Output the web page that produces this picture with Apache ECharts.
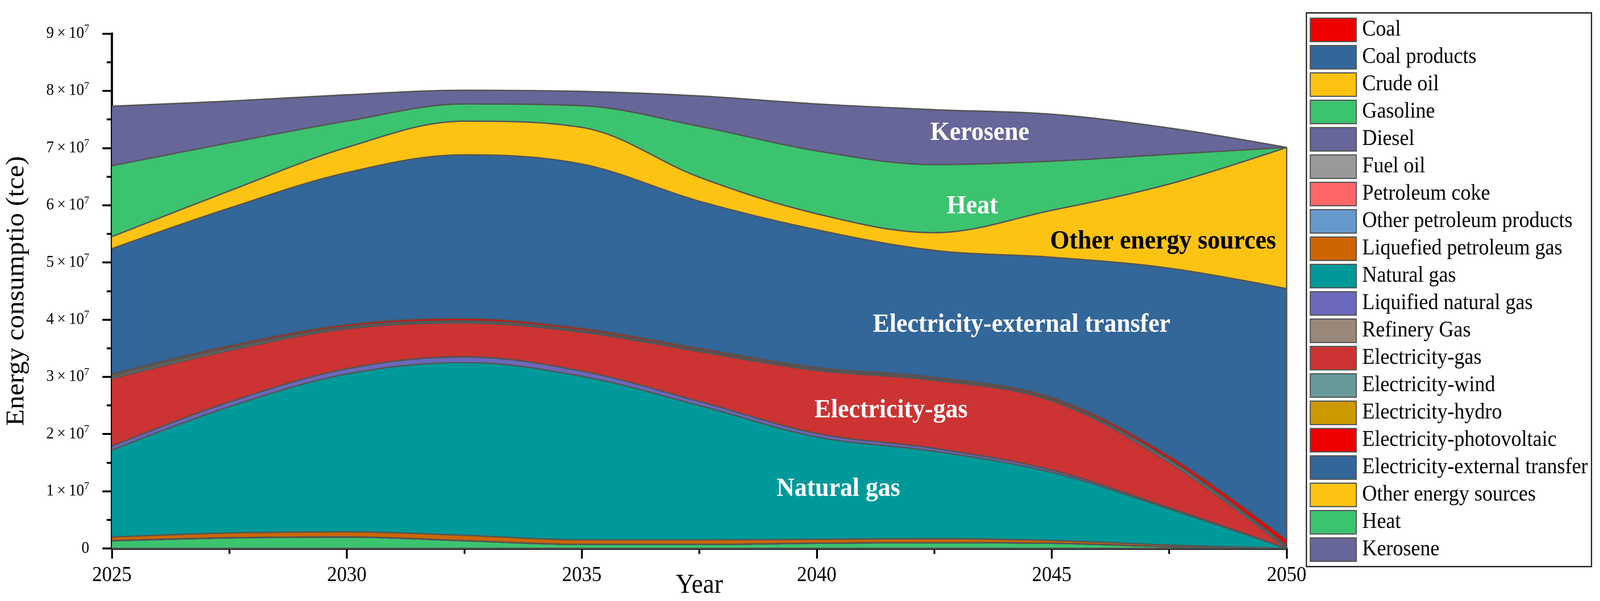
<!DOCTYPE html>
<html>
<head>
<meta charset="utf-8">
<script src="https://cdn.jsdelivr.net/npm/echarts@6/dist/echarts.min.js"></script>
<style>
html,body{margin:0;padding:0;background:#fff;overflow:hidden;}
#wrap{position:absolute;left:0;top:0;width:4376px;height:1538px;transform-origin:0 0;}
#c{width:4376px;height:1538px;}
</style>
</head>
<body>
<div id="wrap"><div id="c"></div></div>
<script>
// ---- data (tce) ----
const years = [2025, 2027.5, 2030, 2032.5, 2035, 2037.5, 2040, 2042.5, 2045, 2047.5, 2050];

const coal          = [0, 0, 0, 0, 0, 0, 0, 0, 0, 0, 0];
const coalProducts  = [0, 0, 0, 0, 0, 0, 0, 0, 0, 0, 0];
const crudeOil      = [0, 0, 0, 0, 0, 0, 0, 0, 0, 0, 0];
const gasoline      = [0.135e7, 0.185e7, 0.20e7, 0.135e7, 0.07e7, 0.07e7, 0.09e7, 0.10e7, 0.09e7, 0.03e7, 0];
const diesel        = [0, 0, 0, 0, 0, 0, 0, 0, 0, 0, 0];
const fuelOil       = [0, 0, 0, 0, 0, 0, 0, 0, 0, 0, 0];
const petroleumCoke = [0, 0, 0, 0, 0, 0, 0, 0, 0, 0, 0];
const otherPetro    = [0, 0, 0, 0, 0, 0, 0, 0, 0, 0, 0];
const lpg           = [0.065e7, 0.085e7, 0.09e7, 0.095e7, 0.08e7, 0.08e7, 0.07e7, 0.07e7, 0.05e7, 0.03e7, 0];
const naturalGas    = [1.52e7, 2.21e7, 2.76e7, 3.02e7, 2.86e7, 2.35e7, 1.79e7, 1.53e7, 1.19e7, 0.63e7, 0];
const lng           = [0.07e7, 0.08e7, 0.09e7, 0.10e7, 0.09e7, 0.07e7, 0.06e7, 0.05e7, 0.04e7, 0.02e7, 0];
const refineryGas   = [0, 0, 0, 0, 0, 0, 0, 0, 0, 0, 0];
const elecGas       = [1.18e7, 0.90e7, 0.70e7, 0.59e7, 0.68e7, 0.87e7, 1.10e7, 1.19e7, 1.21e7, 0.79e7, 0];
const elecWind      = [0.03e7, 0.03e7, 0.025e7, 0.025e7, 0.02e7, 0.02e7, 0.02e7, 0.02e7, 0.02e7, 0.04e7, 0.03e7];
const elecHydro     = [0.03e7, 0.025e7, 0.015e7, 0.015e7, 0.015e7, 0.01e7, 0.01e7, 0.01e7, 0.01e7, 0.02e7, 0.02e7];
const elecPV        = [0.02e7, 0.03e7, 0.035e7, 0.04e7, 0.035e7, 0.03e7, 0.025e7, 0.025e7, 0.03e7, 0.06e7, 0.10e7];
const elecExternal  = [2.19e7, 2.405e7, 2.655e7, 2.86e7, 2.87e7, 2.57e7, 2.405e7, 2.215e7, 2.45e7, 3.28e7, 4.39e7];
const otherSources  = [0.21e7, 0.30e7, 0.44e7, 0.59e7, 0.64e7, 0.42e7, 0.28e7, 0.31e7, 0.82e7, 1.47e7, 2.47e7];
const heat          = [1.24e7, 0.84e7, 0.46e7, 0.30e7, 0.38e7, 0.89e7, 1.10e7, 1.19e7, 0.86e7, 0.52e7, 0];
const kerosene      = [1.04e7, 0.73e7, 0.46e7, 0.24e7, 0.25e7, 0.53e7, 0.82e7, 0.96e7, 0.82e7, 0.46e7, 0];

const yTicks = [0, 1e7, 2e7, 3e7, 4e7, 5e7, 6e7, 7e7, 8e7, 9e7];

// in-chart annotations [text, year, value, color]
const annotations = [
  ['Kerosene', 2043.47, 7.26e7, '#ffffff'],
  ['Heat', 2043.31, 5.98e7, '#ffffff'],
  ['Other energy sources', 2047.37, 5.36e7, '#000000'],
  ['Electricity-external transfer', 2044.36, 3.91e7, '#ffffff'],
  ['Electricity-gas', 2041.58, 2.415e7, '#ffffff'],
  ['Natural gas', 2040.46, 1.04e7, '#ffffff']
];

const layers = [
  ['Coal', coal, '#EE0000'],
  ['Coal products', coalProducts, '#336699'],
  ['Crude oil', crudeOil, '#FDC313'],
  ['Gasoline', gasoline, '#3CC36F'],
  ['Diesel', diesel, '#666699'],
  ['Fuel oil', fuelOil, '#999999'],
  ['Petroleum coke', petroleumCoke, '#FF6666'],
  ['Other petroleum products', otherPetro, '#6699CC'],
  ['Liquefied petroleum gas', lpg, '#CC6600'],
  ['Natural gas', naturalGas, '#009999'],
  ['Liquified natural gas', lng, '#6B67BB'],
  ['Refinery Gas', refineryGas, '#99877A'],
  ['Electricity-gas', elecGas, '#CC3333'],
  ['Electricity-wind', elecWind, '#669999'],
  ['Electricity-hydro', elecHydro, '#CC9900'],
  ['Electricity-photovoltaic', elecPV, '#EE0000'],
  ['Electricity-external transfer', elecExternal, '#336699'],
  ['Other energy sources', otherSources, '#FDC313'],
  ['Heat', heat, '#3CC36F'],
  ['Kerosene', kerosene, '#666699']
];

// fit the 4376x1538 design into whatever viewport the browser gives
(function () {
  const w = window.innerWidth || 4376, h = window.innerHeight || 1538;
  document.getElementById('wrap').style.transform = 'scale(' + (w / 4376) + ',' + (h / 1538) + ')';
})();

const FONT = "'Liberation Serif', 'Times New Roman', serif";
const EDGE = '#555555';
const SMOOTH = 0.35;

// data rows are [value, year] and mapped with encode so that the stack works on the value dimension
function rows(vals) { return years.map((y, i) => [vals[i], y]); }

const series = [];
layers.forEach(([name, vals, color]) => {
  series.push({
    name: name,
    type: 'line',
    stack: 'areas',
    encode: { x: 1, y: 0 },
    smooth: SMOOTH,
    showSymbol: false,
    symbol: 'none',
    silent: true,
    z: 2,
    itemStyle: { color: color },
    lineStyle: { width: 0, opacity: 0 },
    areaStyle: { color: color, opacity: 1 },
    data: rows(vals)
  });
});
const total2050 = layers.reduce((s, l) => s + l[1][years.length - 1], 0);
layers.forEach(([name, vals], k) => {
  const s = {
    name: name + ' outline',
    type: 'line',
    stack: 'outlines',
    encode: { x: 1, y: 0 },
    smooth: SMOOTH,
    showSymbol: false,
    symbol: 'none',
    silent: true,
    z: 3,
    itemStyle: { color: EDGE },
    lineStyle: { width: 3.6, color: EDGE },
    data: rows(vals)
  };
  if (k === layers.length - 1) {
    s.markLine = {
      silent: true,
      symbol: 'none',
      label: { show: false },
      lineStyle: { color: EDGE, width: 3.6, type: 'solid' },
      data: [[{ coord: [years[years.length - 1], 0] }, { coord: [years[years.length - 1], total2050] }]]
    };
  }
  series.push(s);
});

const chart = echarts.init(document.getElementById('c'), null, { renderer: 'canvas', width: 4376, height: 1538 });

chart.setOption({
  backgroundColor: '#ffffff',
  animation: false,
  textStyle: { fontFamily: FONT },
  grid: { left: 306, right: 857, top: 86, bottom: 134.5, containLabel: false, outerBoundsMode: 'none' },
  legend: {
    data: layers.map(l => l[0]),
    orient: 'vertical',
    left: 3573,
    top: 33,
    padding: [12, 10, 12, 9],
    itemWidth: 126,
    itemHeight: 60,
    itemGap: 7,
    icon: 'rect',
    selectedMode: false,
    borderColor: '#000000',
    borderWidth: 3,
    backgroundColor: '#ffffff',
    itemStyle: { borderColor: EDGE, borderWidth: 3 },
    textStyle: { fontSize: 56, fontFamily: FONT, color: '#000000', padding: [0, 0, 0, 11] }
  },
  xAxis: {
    type: 'value',
    min: 2025,
    max: 2050,
    interval: 5,
    name: 'Year',
    nameLocation: 'middle',
    nameGap: 60,
    nameMoveOverlap: false,
    nameTextStyle: { fontSize: 70, fontFamily: FONT, color: '#000000' },
    axisLine: { show: true, onZero: false, lineStyle: { color: '#000000', width: 6 } },
    axisTick: { show: true, length: 26, lineStyle: { color: '#000000', width: 5 } },
    minorTick: { show: true, splitNumber: 2, length: 14, lineStyle: { color: '#000000', width: 5 } },
    axisLabel: { fontSize: 54, fontFamily: FONT, color: '#000000', margin: 42, formatter: v => String(v) },
    splitLine: { show: false },
    minorSplitLine: { show: false }
  },
  yAxis: {
    type: 'value',
    min: yTicks[0],
    max: yTicks[yTicks.length - 1],
    interval: yTicks[1] - yTicks[0],
    name: 'Energy consumptio (tce)',
    nameLocation: 'middle',
    nameRotate: 90,
    nameGap: 225,
    nameMoveOverlap: false,
    nameTextStyle: { fontSize: 70, fontFamily: FONT, color: '#000000' },
    axisLine: { show: true, onZero: false, lineStyle: { color: '#000000', width: 6 } },
    axisTick: { show: true, length: 26, lineStyle: { color: '#000000', width: 5 } },
    minorTick: { show: true, splitNumber: 2, length: 14, lineStyle: { color: '#000000', width: 5 } },
    axisLabel: {
      margin: 62,
      formatter: function (v) {
        if (v === 0) return '{a|0}';
        return '{a|' + Math.round(v / 1e7) + '\u2009\u00d7\u200910}{b|7}';
      },
      rich: {
        a: { fontSize: 42, lineHeight: 52, fontFamily: FONT, color: '#000000' },
        b: { fontSize: 28, lineHeight: 28, fontFamily: FONT, color: '#000000', verticalAlign: 'top' }
      }
    },
    splitLine: { show: false },
    minorSplitLine: { show: false }
  },
  series: series
});

const graphics = annotations.map(([text, x, y, color]) => {
  const p = chart.convertToPixel({ gridIndex: 0 }, [x, y]);
  return {
    type: 'text',
    x: p[0],
    y: p[1],
    z: 100,
    silent: true,
    style: {
      text: text,
      fill: color,
      fontSize: 68,
      fontWeight: 'bold',
      fontFamily: FONT,
      textAlign: 'center',
      textVerticalAlign: 'middle'
    }
  };
});
chart.setOption({ graphic: graphics });
</script>
</body>
</html>
